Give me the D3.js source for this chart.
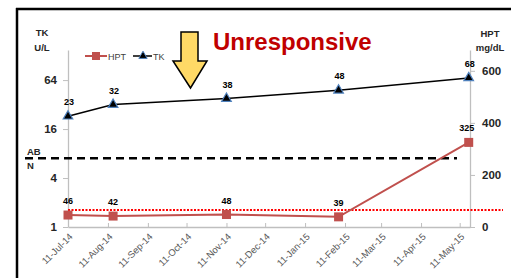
<!DOCTYPE html>
<html>
<head>
<script src="https://d3js.org/d3.v7.js"></script>
<style>
  body { margin: 0; background: #fff; }
  svg { display: block; font-family: "Liberation Sans", Arial, sans-serif; }
</style>
</head>
<body>
<div class="graph"></div>
<script>
const w = 511
const h = 278

// data
const sampleDates = ['2014-07-11', '2014-08-15', '2014-11-11', '2015-02-06', '2015-05-18']
const tkValues = [23, 32, 38, 48, 68]
const hptValues = [46, 42, 48, 39, 325]
const xTickLabels = ['11-Jul-14', '11-Aug-14', '11-Sep-14', '11-Oct-14', '11-Nov-14', '11-Dec-14',
                     '11-Jan-15', '11-Feb-15', '11-Mar-15', '11-Apr-15', '11-May-15']
const leftTicks = [1, 4, 16, 64]
const rightTicks = [0, 200, 400, 600]
const tkCutoff = 7
const hptCutoff = 65
const leftMax = 150
const rightMax = 680
const xStart = '2014-07-11'
const xEnd = '2015-05-19'

const parseIso = d3.timeParse('%Y-%m-%d')
const parseTick = d3.timeParse('%d-%b-%y')

const m = {left: 68, right: 470, top: 50, bottom: 227}

const x = d3.scaleTime()
    .domain([parseIso(xStart), parseIso(xEnd)])
    .range([m.left, m.right])
const yL = d3.scaleLog().base(4)
    .domain([1, leftMax])
    .range([m.bottom, m.top])
const yR = d3.scaleLinear()
    .domain([0, rightMax])
    .range([m.bottom, m.top])

const svg = d3.select('.graph').append('svg')
    .attr('width', w)
    .attr('height', h)

// outer frame
svg.append('line').attr('x1', 16).attr('x2', w).attr('y1', 9).attr('y2', 9)
    .attr('stroke', '#000').attr('stroke-width', 2.5)
svg.append('line').attr('x1', 17).attr('x2', 17).attr('y1', 8).attr('y2', h)
    .attr('stroke', '#000').attr('stroke-width', 2.5)

// axes
const axisColor = '#bfbfbf'
const xAxis = d3.axisBottom(x)
    .tickValues(xTickLabels.map(parseTick))
    .tickSizeInner(-4).tickSizeOuter(0)
    .tickFormat('')
const gx = svg.append('g').attr('transform', `translate(0,${m.bottom})`).call(xAxis)
gx.select('.domain').attr('stroke', axisColor).attr('stroke-width', 1.3)
gx.selectAll('.tick line').attr('stroke', axisColor)

svg.append('g').selectAll('text')
    .data(xTickLabels)
    .enter().append('text')
    .attr('transform', d => `translate(${x(parseTick(d)) + 3},${m.bottom + 8}) rotate(-45)`)
    .attr('text-anchor', 'end')
    .attr('dy', '0.35em')
    .attr('font-size', 9.5)
    .attr('fill', '#595959')
    .text(d => d)

const gl = svg.append('g').attr('transform', `translate(${m.left},0)`)
    .call(d3.axisLeft(yL).tickValues(leftTicks).tickFormat(d3.format('d')).tickSizeInner(5).tickSizeOuter(0))
gl.select('.domain').attr('stroke', axisColor).attr('stroke-width', 1.3)
gl.selectAll('.tick line').attr('stroke', axisColor)
gl.selectAll('.tick text').attr('x', -11).attr('font-size', 11.5).attr('font-weight', 'bold')
    .attr('fill', '#262626').attr('font-family', '"Liberation Sans", Arial, sans-serif')

const gr = svg.append('g').attr('transform', `translate(${m.right},0)`)
    .call(d3.axisRight(yR).tickValues(rightTicks).tickSizeInner(5).tickSizeOuter(0))
gr.select('.domain').attr('stroke', axisColor).attr('stroke-width', 1.3)
gr.selectAll('.tick line').attr('stroke', axisColor)
gr.selectAll('.tick text').attr('x', 12).attr('font-size', 11.5).attr('font-weight', 'bold')
    .attr('fill', '#262626').attr('font-family', '"Liberation Sans", Arial, sans-serif')

// axis titles
const titleStyle = s => s.attr('font-size', 9.5).attr('font-weight', 'bold').attr('fill', '#262626').attr('text-anchor', 'middle')
svg.append('text').attr('x', 42).attr('y', 36).text('TK').call(titleStyle)
svg.append('text').attr('x', 42).attr('y', 51).text('U/L').call(titleStyle)
svg.append('text').attr('x', 490).attr('y', 37).text('HPT').call(titleStyle)
svg.append('text').attr('x', 490).attr('y', 51).text('mg/dL').call(titleStyle)

// reference lines
svg.append('line')
    .attr('x1', 25).attr('x2', 457)
    .attr('y1', yL(tkCutoff)).attr('y2', yL(tkCutoff))
    .attr('stroke', '#000').attr('stroke-width', 2.3).attr('stroke-dasharray', '8,5')
svg.append('text').attr('x', 27).attr('y', yL(tkCutoff) - 3).text('AB')
    .attr('font-size', 9.5).attr('font-weight', 'bold').attr('fill', '#262626')
svg.append('text').attr('x', 27).attr('y', yL(tkCutoff) + 11).text('N')
    .attr('font-size', 9.5).attr('font-weight', 'bold').attr('fill', '#262626')

svg.append('line')
    .attr('x1', m.left).attr('x2', 503)
    .attr('y1', yR(hptCutoff)).attr('y2', yR(hptCutoff))
    .attr('stroke', '#ff0000').attr('stroke-width', 2).attr('stroke-dasharray', '2,1.5')

// series
const tkData = sampleDates.map((d, i) => ({date: parseIso(d), v: tkValues[i]}))
const hptData = sampleDates.map((d, i) => ({date: parseIso(d), v: hptValues[i]}))

const hptColor = '#c0504d'
svg.append('path').datum(hptData)
    .attr('fill', 'none').attr('stroke', hptColor).attr('stroke-width', 2)
    .attr('d', d3.line().x(d => x(d.date)).y(d => yR(d.v)))
svg.append('g').selectAll('rect').data(hptData).enter().append('rect')
    .attr('x', d => x(d.date) - 4.5).attr('y', d => yR(d.v) - 4.5)
    .attr('width', 9).attr('height', 9)
    .attr('fill', hptColor)

svg.append('path').datum(tkData)
    .attr('fill', 'none').attr('stroke', '#000').attr('stroke-width', 1.5)
    .attr('d', d3.line().x(d => x(d.date)).y(d => yL(d.v)))
const tri = d3.symbol().type(d3.symbolTriangle).size(40)
svg.append('g').selectAll('path').data(tkData).enter().append('path')
    .attr('transform', d => `translate(${x(d.date)},${yL(d.v)})`)
    .attr('d', tri)
    .attr('fill', '#000').attr('stroke', '#4f81bd').attr('stroke-width', 1.2)

// data labels
const labelStyle = s => s.attr('font-size', 9).attr('font-weight', 'bold').attr('fill', '#000').attr('text-anchor', 'middle')
svg.append('g').selectAll('text').data(tkData).enter().append('text')
    .attr('x', d => x(d.date) + 1).attr('y', d => yL(d.v) - 11)
    .text(d => d.v).call(labelStyle)
svg.append('g').selectAll('text').data(hptData).enter().append('text')
    .attr('x', d => x(d.date) - (d.v > 100 ? 2 : 0)).attr('y', d => yR(d.v) - 11)
    .text(d => d.v).call(labelStyle)

// legend
const lg = svg.append('g').attr('transform', 'translate(0,56)')
lg.append('line').attr('x1', 85).attr('x2', 107).attr('stroke', hptColor).attr('stroke-width', 2)
lg.append('rect').attr('x', 92).attr('y', -4).attr('width', 8).attr('height', 8).attr('fill', hptColor)
lg.append('text').attr('x', 108).attr('y', 3.5).text('HPT').attr('font-size', 9).attr('fill', '#404040')
lg.append('line').attr('x1', 133).attr('x2', 152).attr('stroke', '#000').attr('stroke-width', 1.5)
lg.append('path').attr('transform', 'translate(143,0)').attr('d', d3.symbol().type(d3.symbolTriangle).size(30))
    .attr('fill', '#000').attr('stroke', '#4f81bd').attr('stroke-width', 1)
lg.append('text').attr('x', 153).attr('y', 3.5).text('TK').attr('font-size', 9).attr('fill', '#404040')

// annotation arrow + title
svg.append('path')
    .attr('d', 'M181,32 L198,32 L198,61 L207,61 L190.5,88 L173,61 L181,61 Z')
    .attr('fill', '#ffd966').attr('stroke', '#000').attr('stroke-width', 1.5)
    .attr('stroke-linejoin', 'miter')
svg.append('text').attr('x', 213).attr('y', 50)
    .text('Unresponsive')
    .attr('font-size', 24).attr('font-weight', 'bold').attr('fill', '#c00000')
</script>
</body>
</html>
